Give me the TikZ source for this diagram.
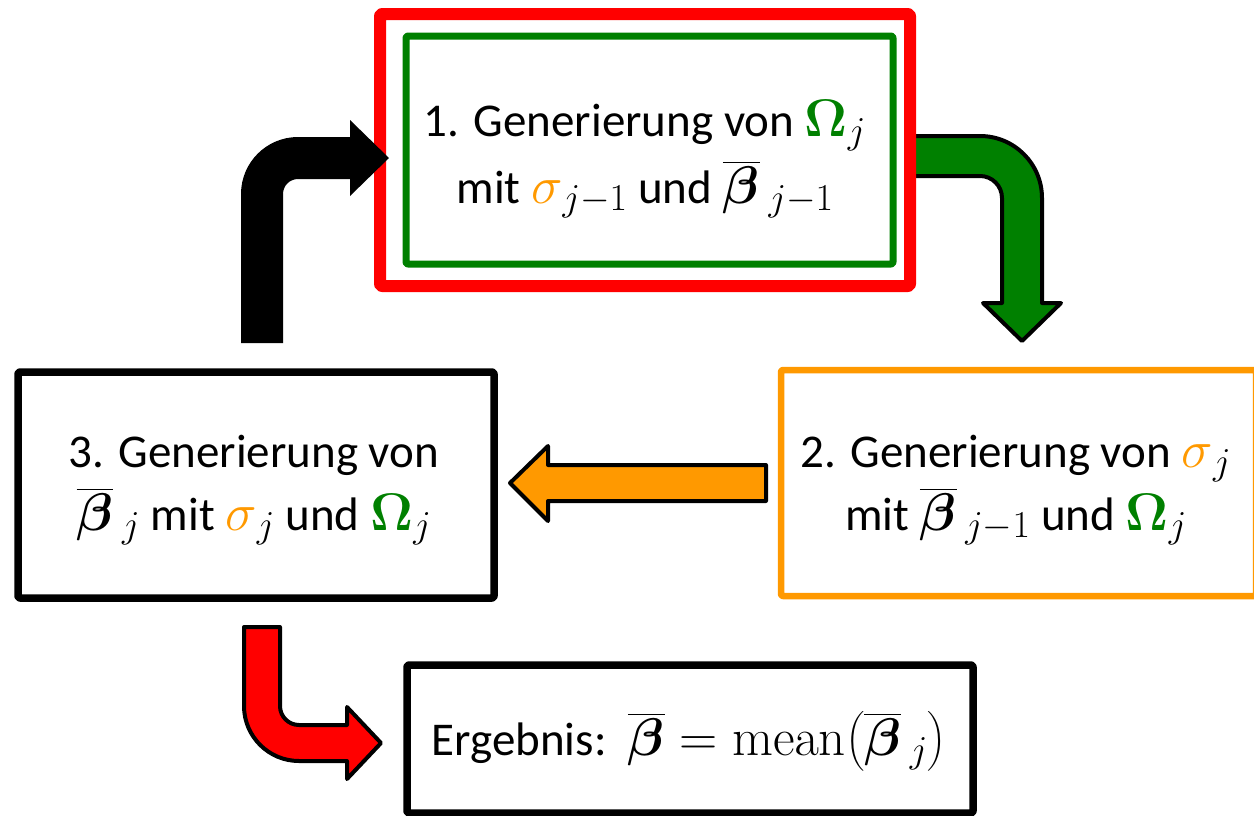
\RequirePackage{fix-cm}
\documentclass[tikz,border=0pt]{standalone}
\usepackage{amsmath}
\usepackage{bm}
\usepackage[no-math]{fontspec}
\setmainfont{Carlito}
\DeclareMathSizes{47}{53}{38}{28}

\definecolor{boxred}{RGB}{255,0,0}
\definecolor{boxgreen}{RGB}{0,128,0}
\definecolor{boxorange}{RGB}{255,153,0}

\tikzset{
  frame/.style={rectangle, inner sep=0pt, line join=round, rounded corners=2pt},
  linetext/.style={anchor=base, inner sep=0pt,
    font=\fontsize{47}{56}\selectfont},
  blockarrow/.style={draw=black, line width=4pt, line join=round},
}

\newcommand{\Om}{{\color{boxgreen}\mathbf{\Omega}}}
\newcommand{\sig}{{\color{boxorange}\sigma}}
\newcommand{\bb}{\overline{\bm{\beta}}\,}

\begin{document}
\begin{tikzpicture}[x=1pt,y=-1pt]
\useasboundingbox (0,0) rectangle (1254,815);

% green bent arrow from step 1 down to step 2 (left end hidden under the red frame)
\path[blockarrow, fill=boxgreen]
  (910,136) -- (980,136) arc[start angle=270, end angle=360, radius=62]
  -- (1042,303) -- (1061,303) -- (1022,341) -- (983,303) -- (1002,303)
  -- (1002,198) arc[start angle=0, end angle=-90, radius=22]
  -- (910,176) -- cycle;

% step 1: double frame
\node[frame, draw=boxred, line width=12pt, minimum width=530pt, minimum height=272pt] (b1) at (645,150) {};
\node[frame, draw=boxgreen, line width=7pt, minimum width=487pt, minimum height=228pt] (b1in) at (649.5,150) {};
% step 2
\node[frame, draw=boxorange, line width=6.5pt, minimum width=475pt, minimum height=226pt] (b2) at (1018.5,483) {};
% step 3
\node[frame, draw=black, line width=7.5pt, minimum width=476pt, minimum height=226pt] (b3) at (256,485) {};
% result
\node[frame, draw=black, line width=7.5pt, minimum width=566pt, minimum height=148pt] (b4) at (690,739) {};

% texts
\node[linetext] (t1a) at (645,136) {1. Generierung von $\Om_j$};
\node[linetext] (t1b) at (645,203) {mit $\sig_{j-1}$ und $\bb_{j-1}$};
\node[linetext] (t2a) at (1016,467) {2. Generierung von $\sig_j$};
\node[linetext] (t2b) at (1016,530) {mit $\bb_{j-1}$ und $\Om_j$};
\node[linetext] (t3a) at (254,467) {3. Generierung von};
\node[linetext] (t3b) at (254,530) {$\bb_j$ mit $\sig_j$ und $\Om_j$};
\node[linetext] (t4) at (689,755) {Ergebnis:\hspace{0.45em}$\overline{\bm{\beta}} = \mathrm{mean}\bigl(\bb_j\bigr)$};

% orange arrow from step 2 to step 3
\path[blockarrow, fill=boxorange]
  (766,465) -- (548,465) -- (548,446) -- (510,483) -- (548,521) -- (548,501)
  -- (766,501) -- cycle;

% black bent arrow from step 3 back up to step 1
\path[fill=black, line join=round]
  (241,343) -- (241,194) arc[start angle=180, end angle=270, radius=57]
  -- (350,137) -- (350,120) -- (389,158) -- (350,196) -- (350,179)
  -- (298,179) arc[start angle=270, end angle=180, radius=15]
  -- (283,343) -- cycle;

% red bent arrow from step 3 to the result
\path[blockarrow, fill=boxred]
  (244,627) -- (244,706) arc[start angle=180, end angle=90, radius=55]
  -- (347,761) -- (347,779) -- (381,743) -- (347,707) -- (347,725)
  -- (299,725) arc[start angle=90, end angle=180, radius=19]
  -- (280,627) -- cycle;
\end{tikzpicture}
\end{document}
